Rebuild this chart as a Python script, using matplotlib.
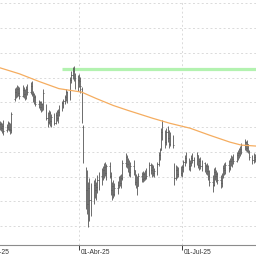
import numpy as np
import pandas as pd
import matplotlib
matplotlib.use('Agg')
import matplotlib.pyplot as plt
import matplotlib.dates as mdates

# sesiones diarias (dias habiles) 21-Ene-25 .. 04-Sep-25
fechas = pd.bdate_range('2025-01-21', '2025-09-04')

highs = [
    14.24, 14.20, 14.16, 14.28, 14.12, 14.24, 14.20, 14.16, 14.60,
    15.60, 15.64, 15.72, 15.68, 15.64, 15.72, 15.64, 15.56, 15.68, 15.76, 15.84, 15.88, 15.48, 15.40, 15.32, 15.12, 15.08, 15.04, 14.96, 15.56,
    14.92, 14.60, 14.68, 14.64, 14.52, 14.56, 14.60, 14.68, 14.72, 14.88, 15.08, 15.16, 15.32, 15.56, 15.48, 16.04, 16.28, 16.44, 16.48, 16.20, 16.12,
    16.16, 16.04, 15.64, 14.08, 12.40, 12.28, 11.80, 11.96, 11.76, 11.88, 11.96, 11.80, 12.08, 12.20, 12.36, 12.44, 12.56, 12.60, 12.52, 12.60, 12.20, 11.80,
    11.88, 11.76, 11.84, 12.04, 12.08, 12.12, 12.68, 12.96, 12.88, 12.76, 12.68, 12.60, 12.68, 12.28, 12.12, 12.04, 12.16, 12.20, 12.24, 12.20, 12.28, 12.36,
    12.60, 12.56, 12.52, 12.48, 12.36, 12.60, 13.00, 13.16, 13.96, 14.28, 13.88, 13.96, 14.04, 13.88, 13.80, 13.68, 12.56, 12.48, 12.44, 12.40, 12.44,
    12.48, 12.68, 12.88, 13.00, 12.76, 12.68, 12.88, 12.96, 12.80, 13.00, 12.88, 12.76, 12.80, 12.68, 12.60, 12.52, 12.56, 12.48, 12.28, 12.08, 12.36, 12.40, 12.28,
    12.20, 12.08, 12.16, 12.48, 12.56, 12.60, 12.68, 12.76, 12.88, 12.84, 12.92, 13.00, 13.08, 13.16, 13.24, 13.36, 13.52, 13.44, 13.48, 13.32, 13.08,
    12.88, 12.96, 12.92, 12.84,
]
lows = [
    13.88, 13.84, 13.76, 13.68, 13.80, 13.88, 13.84, 13.72, 13.76,
    15.08, 15.20, 15.24, 15.28, 15.16, 15.24, 15.20, 15.12, 15.16, 15.32, 15.36, 15.28, 15.00, 14.92, 14.84, 14.76, 14.68, 14.60, 14.64, 14.68,
    14.28, 14.00, 14.12, 14.04, 14.00, 14.08, 14.12, 14.24, 14.16, 14.44, 14.64, 14.76, 14.92, 15.08, 14.96, 15.12, 15.80, 15.96, 15.88, 15.56, 15.48,
    15.64, 15.40, 14.16, 12.56, 10.68, 10.48, 9.96, 10.20, 10.40, 10.88, 11.16, 11.08, 11.36, 11.48, 11.68, 11.88, 11.96, 12.04, 11.88, 11.96, 11.28, 11.08,
    11.16, 11.24, 11.32, 11.56, 11.64, 11.56, 11.88, 12.40, 12.36, 12.20, 12.04, 12.00, 12.08, 11.68, 11.56, 11.28, 11.64, 11.80, 11.80, 11.84, 11.88, 11.92,
    12.04, 12.12, 12.00, 12.04, 12.00, 12.08, 12.44, 12.68, 13.08, 13.48, 13.16, 13.28, 13.40, 13.16, 13.24, 13.16, 11.68, 11.88, 11.96, 12.00, 12.04,
    12.00, 12.20, 12.44, 12.56, 12.28, 12.24, 12.44, 12.56, 12.40, 12.48, 12.36, 12.28, 12.32, 12.24, 12.20, 12.12, 12.08, 11.88, 11.64, 11.40, 11.64, 11.88, 11.80,
    11.72, 11.56, 11.60, 11.96, 12.08, 12.12, 12.20, 12.28, 12.44, 12.40, 12.52, 12.60, 12.68, 12.76, 12.84, 12.92, 13.08, 13.04, 13.00, 12.96, 12.68,
    12.52, 12.56, 12.60, 12.56,
]
opens = [
    14.04, 14.12, 13.96, 14.04, 13.88, 14.00, 14.12, 13.92, 13.84,
    15.16, 15.44, 15.32, 15.56, 15.40, 15.28, 15.52, 15.36, 15.24, 15.56, 15.44, 15.68, 15.36, 15.12, 15.24, 14.92, 15.00, 14.80, 14.92, 14.76,
    14.84, 14.36, 14.20, 14.56, 14.24, 14.40, 14.16, 14.48, 14.36, 14.60, 14.80, 14.96, 15.04, 15.24, 15.44, 15.16, 15.92, 16.12, 16.28, 16.00, 15.72,
    15.92, 15.88, 15.56, 14.00, 12.08, 11.96, 10.68, 11.68, 11.08, 11.48, 11.68, 11.48, 11.60, 11.88, 12.04, 12.20, 12.28, 12.40, 12.16, 12.44, 12.04, 11.48,
    11.64, 11.32, 11.56, 11.68, 11.88, 11.76, 11.96, 12.56, 12.80, 12.52, 12.68, 12.20, 12.44, 12.28, 11.80, 11.96, 11.64, 12.04, 11.92, 12.12, 11.96, 12.20,
    12.04, 12.48, 12.28, 12.40, 12.16, 12.24, 12.52, 12.88, 13.08, 13.80, 13.68, 13.40, 13.80, 13.56, 13.32, 13.60, 12.44, 11.96, 12.28, 12.12, 12.32,
    12.16, 12.40, 12.60, 12.76, 12.84, 12.44, 12.56, 12.76, 12.68, 12.60, 12.88, 12.48, 12.64, 12.44, 12.56, 12.36, 12.44, 12.24, 12.04, 11.80, 11.68, 12.20, 12.04,
    12.12, 11.88, 11.76, 12.04, 12.36, 12.28, 12.48, 12.36, 12.64, 12.56, 12.72, 12.64, 12.88, 12.96, 13.04, 13.12, 13.28, 13.40, 13.16, 13.32, 13.08,
    12.80, 12.68, 12.80, 12.72,
]
closes = [
    14.12, 13.96, 14.04, 13.84, 14.00, 14.16, 13.92, 13.88, 14.52,
    15.48, 15.32, 15.56, 15.40, 15.28, 15.52, 15.36, 15.24, 15.56, 15.44, 15.68, 15.36, 15.12, 15.24, 14.92, 15.00, 14.80, 14.92, 14.72, 15.40,
    14.36, 14.20, 14.56, 14.24, 14.40, 14.16, 14.48, 14.36, 14.60, 14.80, 14.96, 15.04, 15.24, 15.44, 15.12, 15.92, 16.12, 16.28, 16.00, 15.72, 15.92,
    15.88, 15.68, 14.28, 12.68, 11.48, 10.88, 11.56, 11.08, 11.28, 11.68, 11.48, 11.60, 11.88, 12.04, 12.20, 12.28, 12.40, 12.16, 12.44, 12.04, 11.48, 11.64,
    11.32, 11.56, 11.68, 11.88, 11.76, 11.96, 12.56, 12.80, 12.52, 12.68, 12.20, 12.44, 12.28, 11.80, 11.96, 11.64, 12.04, 11.92, 12.12, 11.96, 12.20, 12.04,
    12.48, 12.28, 12.40, 12.16, 12.24, 12.52, 12.88, 13.08, 13.80, 13.68, 13.40, 13.80, 13.56, 13.32, 13.60, 13.28, 11.96, 12.28, 12.12, 12.32, 12.16,
    12.40, 12.60, 12.76, 12.84, 12.44, 12.56, 12.76, 12.68, 12.60, 12.88, 12.48, 12.64, 12.44, 12.56, 12.36, 12.44, 12.24, 12.04, 11.80, 11.68, 12.20, 12.04, 12.12,
    11.88, 11.76, 12.04, 12.36, 12.28, 12.48, 12.36, 12.64, 12.56, 12.72, 12.64, 12.88, 12.96, 13.04, 13.12, 13.28, 13.40, 13.16, 13.32, 13.08, 12.80,
    12.68, 12.80, 12.72, 12.76,
]

# media movil (naranja)
ma_fechas = ['2025-01-21', '2025-02-07', '2025-02-25', '2025-03-14', '2025-04-03', '2025-04-16', '2025-05-01',
             '2025-05-14', '2025-06-05', '2025-06-20', '2025-07-08', '2025-07-25', '2025-08-12', '2025-08-22', '2025-09-04']
ma_valores = [16.40, 16.16, 15.84, 15.56, 15.42, 15.16, 14.88, 14.68, 14.36, 14.16, 13.96, 13.68, 13.40, 13.28, 13.24]

# resistencia (verde)
res_inicio = '2025-03-17'
res_fin = '2025-09-30'
res_nivel = 16.36

meses = ['2025-01-01', '2025-04-01', '2025-07-01']
etiquetas = ['01-Ene-25', '01-Abr-25', '01-Jul-25']

assert len(fechas) == len(highs) == len(lows) == len(opens) == len(closes)

bar_color = '#555555'
grid_color = '#dadada'

fig = plt.figure(figsize=(2.56, 2.56), dpi=100)
ax = fig.add_axes([0, 11 / 256, 1, 245 / 256])

x = mdates.date2num(fechas)
ax.vlines(x, lows, highs, color=bar_color, lw=0.6)
ax.hlines(opens, x - 0.45, x, color=bar_color, lw=0.6)
ax.hlines(closes, x, x + 0.45, color=bar_color, lw=0.6)

ax.plot(mdates.date2num(pd.to_datetime(ma_fechas)), ma_valores, color='#f5ad60', lw=0.9)
ax.hlines(res_nivel, mdates.date2num(pd.Timestamp(res_inicio)), mdates.date2num(pd.Timestamp(res_fin)),
          color='#b3f2b0', lw=2.3, zorder=1)

ticks = mdates.date2num(pd.to_datetime(meses))
ax.set_xticks(ticks)
ax.set_yticks(np.arange(10, 20))

# escala: 1.132 px por dia, 01-Abr en x=79 (despues de set_xticks, que amplia los limites)
px_dia = 103 / 91
x0 = mdates.date2num(pd.Timestamp('2025-04-01')) - 79.3 / px_dia
ax.set_xlim(x0, x0 + 256 / px_dia)
ax.set_ylim(9.242, 19.141)

ax.grid(True, color=grid_color, lw=0.7, ls=(0, (2, 2.5)))
ax.set_axisbelow(True)
ax.tick_params(axis='x', length=3.5, width=0.7, color='#3a3a3a', labelbottom=False)
ax.tick_params(axis='y', length=0, labelleft=False)
for s in ['top', 'right', 'left']:
    ax.spines[s].set_visible(False)
ax.spines['bottom'].set_color('#8c8c8c')
ax.spines['bottom'].set_linewidth(0.8)

for t, lbl in zip(ticks, etiquetas):
    ax.annotate(lbl, xy=(t, 0), xycoords=('data', 'axes fraction'), xytext=(0.8, -2.6),
                textcoords='offset points', ha='left', va='top', fontsize=4.8,
                family='Liberation Sans', color='#333333', annotation_clip=False)

fig.savefig('out.png', dpi=100)
